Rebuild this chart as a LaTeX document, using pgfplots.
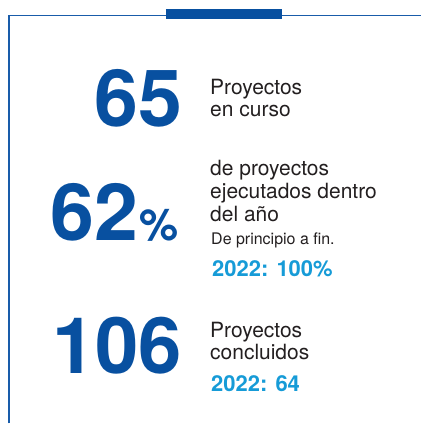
\documentclass[border=0pt]{standalone}
\usepackage{fontspec}
\setmainfont{TeX Gyre Heros}
\usepackage{pgfplots}
\pgfplotsset{compat=1.18}
\definecolor{navy}{RGB}{8,80,160}
\definecolor{frameblue}{RGB}{25,92,170}
\definecolor{sky}{RGB}{22,155,215}
\definecolor{ink}{RGB}{35,31,32}
\newcommand{\fs}[1]{\fontsize{#1bp}{#1bp}\selectfont}
\begin{document}
\begin{tikzpicture}
\begin{axis}[
    width=422bp, height=424bp, scale only axis,
    xmin=0, xmax=422, ymin=0, ymax=424, y dir=reverse,
    hide axis, clip=false,
    every node/.style={inner sep=0pt},
]
% frame
\addplot[frameblue, line width=1.2bp, no marks] coordinates {(9,424) (9,15.5) (422,15.5)};
% top bar
\addplot[navy, line width=10bp, no marks] coordinates {(166,14) (282,14)};
\path (axis cs:0,0) rectangle (axis cs:422,424);

% block 1
\node[anchor=base east, text=navy, font=\fs{79}\bfseries] at (axis cs:186,127) {65};
\node[anchor=base west, text=ink, font=\fs{21}] at (axis cs:207,95) {Proyectos};
\node[anchor=base west, text=ink, font=\fs{21}] at (axis cs:207,117) {en curso};

% block 2
\node[anchor=base east, text=navy, font=\fs{79}\bfseries] at (axis cs:142,241) {62};
\node[anchor=base west, text=navy, font=\fs{44}\bfseries] at (axis cs:136.5,241) {\%};
\node[anchor=base west, text=ink, font=\fs{21}] at (axis cs:207,176) {de proyectos};
\node[anchor=base west, text=ink, font=\fs{21}] at (axis cs:207,199) {ejecutados dentro};
\node[anchor=base west, text=ink, font=\fs{21}] at (axis cs:207,222) {del año};
\node[anchor=base west, text=ink, font=\fs{16}] at (axis cs:208,245) {De principio a fin.};
\node[anchor=base west, text=sky, font=\fs{22}\bfseries] at (axis cs:209,277) {2022: 100\%};

% block 3
\node[anchor=base east, text=navy, font=\fs{78}\bfseries] at (axis cs:186,374) {106};
\node[anchor=base west, text=ink, font=\fs{21}] at (axis cs:207,338) {Proyectos};
\node[anchor=base west, text=ink, font=\fs{21}] at (axis cs:207,360) {concluidos};
\node[anchor=base west, text=sky, font=\fs{22}\bfseries] at (axis cs:208,392) {2022: 64};
\end{axis}
\end{tikzpicture}
\end{document}
